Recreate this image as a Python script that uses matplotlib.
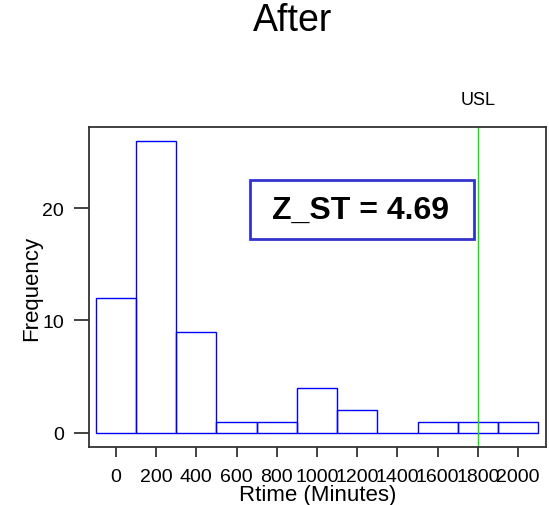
import matplotlib
matplotlib.use('Agg')
import matplotlib.pyplot as plt
from matplotlib.patches import Rectangle

plt.rcParams['font.family'] = ['Liberation Sans', 'DejaVu Sans']

# ─── 데이터 ───────────────────────────────────────────────
bin_left = [-100, 100, 300, 500, 700, 900, 1100, 1300, 1500, 1700, 1900]
counts = [12, 26, 9, 1, 1, 4, 2, 0, 1, 1, 1]
bin_width = 200
usl = 1800
z_st = 4.69
x_ticks = [0, 200, 400, 600, 800, 1000, 1200, 1400, 1600, 1800, 2000]
y_ticks = [0, 10, 20]

fig = plt.figure(figsize=(5.49, 5.06), dpi=100)
ax = fig.add_axes([0.1621, 0.1146, 0.8324, 0.6324])

ax.bar(bin_left, counts, width=bin_width, align='edge', fill=False,
       edgecolor='blue', linewidth=1.0)
ax.axvline(usl, color='#00ee00', lw=1.0)

ax.set_xlim(-134, 2139)
ax.set_ylim(-1.25, 27.2)
ax.set_xticks(x_ticks)
ax.set_yticks(y_ticks)
ax.tick_params(axis='x', length=7, width=1.2, pad=8, labelsize=14, color='#222222')
ax.tick_params(axis='y', length=11, width=1.2, pad=7, labelsize=14, color='#222222')
for sp in ax.spines.values():
    sp.set_edgecolor('#333333')
    sp.set_linewidth(1.3)

ax.set_xlabel('Rtime (Minutes)', fontsize=16)
ax.set_ylabel('Frequency', fontsize=16)
ax.xaxis.set_label_coords(0.5, -0.147)
ax.xaxis.label.set_va('center')
ax.yaxis.set_label_coords(-0.125, 0.5)
ax.yaxis.label.set_va('center')

# USL 라벨
ax.text(usl, 1.085, 'USL', transform=ax.get_xaxis_transform(),
        ha='center', va='center', fontsize=13)

# Z_ST 박스
ax.add_patch(Rectangle((0.352, 0.65), 0.4905, 0.184, transform=ax.transAxes,
                       fill=False, edgecolor='#3333cc', lw=2))
ax.text(0.594, 0.742, f'Z_ST = {z_st:.2f}', transform=ax.transAxes,
        ha='center', va='center', fontsize=23, fontweight='bold')

fig.text(0.533, 0.958, 'After', ha='center', va='center', fontsize=27)

fig.savefig('out.png', dpi=100)
